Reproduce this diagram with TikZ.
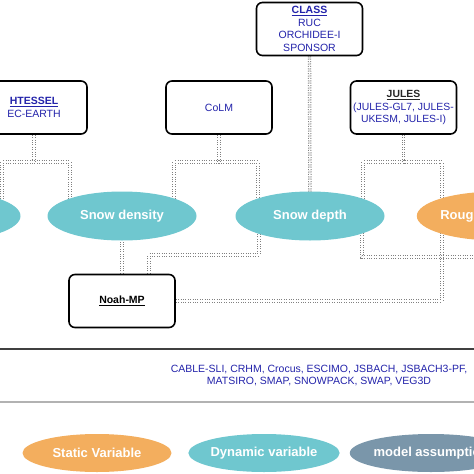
\documentclass[tikz,border=0pt]{standalone}
\usepackage{fontspec}
\setmainfont{Liberation Sans}
\usetikzlibrary{shapes.geometric,backgrounds}
\definecolor{dyn}{RGB}{111,199,207}
\definecolor{stat}{RGB}{243,174,94}
\definecolor{assum}{RGB}{122,150,170}
\definecolor{mblue}{RGB}{35,35,170}
\begin{document}
\begin{tikzpicture}[x=1pt,y=-1pt,
  modelbox/.style={draw=black, line width=1.6pt, rounded corners=6pt, fill=white,
    minimum width=106pt, minimum height=53pt, align=center, inner sep=1pt,
    font=\fontsize{10.5}{12.6}\selectfont, text=mblue},
  var/.style={ellipse, minimum width=149pt, minimum height=49pt, inner sep=0pt,
    text=white, font=\fontsize{13}{15}\bfseries\selectfont},
  conn/.style={draw=black!50, line width=1pt, dash pattern=on 1pt off 1.4pt,
    double=white, double distance=1.4pt},
  sepline/.style={line width=1.3pt}
]
\useasboundingbox (0,0) rectangle (474,474);
% model boxes
\node[modelbox] (class) at (309.5,29) {\textbf{\underline{CLASS}}\\RUC\\ORCHIDEE-I\\SPONSOR};
\node[modelbox] (hte) at (34,107.5) {\textbf{\underline{HTESSEL}}\\EC-EARTH};
\node[modelbox] (colm) at (219,107.5) {CoLM};
\node[modelbox, font=\fontsize{10.4}{12.2}\selectfont] (jules) at (403.5,107.5)
  {{\color{black!85}\textbf{\underline{JULES}}}\\(JULES-GL7, JULES-\\UKESM, JULES-I)};
\node[modelbox, text=black] (noah) at (122,301) {\textbf{\underline{Noah-MP}}};
% variables
\node[var, fill=dyn] (ell0) at (-54,216) {};
\node[var, fill=dyn] (dens) at (122,216) {Snow density};
\node[var, fill=dyn] (depth) at (310,216) {Snow depth};
\node[var, fill=stat] (rough) at (497,216) {Roughness length};
% other models
\coordinate (tl) at (-10,349); \coordinate (tr) at (484,349);
\coordinate (bl) at (-10,402); \coordinate (br) at (484,402);
\draw[sepline, draw=black!75] (tl) -- (tr);
\draw[sepline, draw=black!30] (bl) -- (br);
\node[font=\fontsize{10.5}{13}\selectfont, text=mblue, align=center, inner sep=0pt] (others) at (319,375.5)
  {CABLE-SLI, CRHM, Crocus, ESCIMO, JSBACH, JSBACH3-PF,\\MATSIRO, SMAP, SNOWPACK, SWAP, VEG3D};
% legend
\node[var, fill=stat, minimum height=38pt] (lstat) at (97,453) {Static Variable};
\node[var, fill=dyn, minimum height=38pt] (ldyn) at (264,453) {Dynamic variable};
\node[var, fill=assum, minimum height=38pt] (lassum) at (431,453) {model assumption};
% connectors
\coordinate (hf) at (34,162);
\coordinate (cf) at (219,162);
\coordinate (jf) at (403.5,162);
\coordinate (nf) at (200,255);
\coordinate (redge) at (490,257);
\begin{pgfonlayer}{background}
\draw[conn] (hte.south) -- (hf);
\draw[conn] ([xshift=56pt]ell0.center) |- (hf) -| ([xshift=-52pt]dens.center);
\draw[conn] (colm.south) -- (cf);
\draw[conn] ([xshift=52pt]dens.center) |- (cf) -| ([xshift=-52pt]depth.center);
\draw[conn] (jules.south) -- (jf);
\draw[conn] ([xshift=53pt]depth.center) |- (jf) -| ([xshift=-55pt]rough.center);
\draw[conn] (class.south) -- (depth.center);
\draw[conn] (noah.north) -- (dens.center);
\draw[conn] ([xshift=27pt]noah.north) |- (nf) -| ([xshift=-51pt]depth.center);
\draw[conn] ([xshift=52pt]depth.center) |- (redge);
\draw[conn] (noah.east) -| ([xshift=-55pt]rough.center);
\end{pgfonlayer}
\end{tikzpicture}
\end{document}
